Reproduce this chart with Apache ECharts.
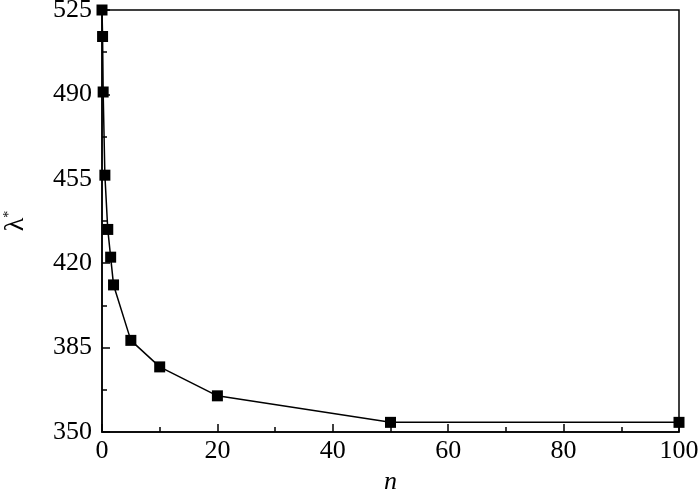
<!DOCTYPE html>
<html>
<head>
<meta charset="utf-8">
<script src="https://cdn.jsdelivr.net/npm/echarts@6/dist/echarts.min.js"></script>
<style>html,body{margin:0;padding:0;background:#fff}#c{width:700px;height:493px}</style>
</head>
<body>
<div id="c"></div>
<script>
const nValues = [0, 0.1, 0.2, 0.5, 1, 1.5, 2, 5, 10, 20, 50, 100];
const lambdaValues = [525, 514, 491, 456.5, 434, 422.5, 411, 388, 377, 365, 354, 354];
const xTicks = [0, 20, 40, 60, 80, 100];
const yTicks = [350, 385, 420, 455, 490, 525];

const chart = echarts.init(document.getElementById('c'), null, {renderer: 'canvas'});
const font = 'Liberation Serif';
chart.setOption({
  animation: false,
  backgroundColor: '#fff',
  grid: {left: 102, right: 21, top: 10, bottom: 61, show: true, borderColor: '#000', borderWidth: 1.5,
    backgroundColor: 'transparent', containLabel: false, outerBoundsMode: 'none'},
  xAxis: {
    type: 'value', min: xTicks[0], max: xTicks[xTicks.length-1], interval: 20,
    name: 'n', nameLocation: 'middle', nameGap: 30,
    nameTextStyle: {fontFamily: font, fontSize: 26, fontStyle: 'italic', color: '#000'},
    axisLine: {show: true, lineStyle: {color: '#000', width: 1.5}},
    axisTick: {show: true, inside: true, length: 8, lineStyle: {color: '#000', width: 1.5}},
    minorTick: {show: true, splitNumber: 2, length: 5, lineStyle: {color: '#000', width: 1.5}},
    axisLabel: {fontFamily: font, fontSize: 26, color: '#000', margin: 6},
    splitLine: {show: false}
  },
  yAxis: {
    type: 'value', min: yTicks[0], max: yTicks[yTicks.length-1], interval: 35,
    name: 'λ{s|*}', nameLocation: 'middle', nameGap: 72, nameRotate: 90,
    nameTextStyle: {fontFamily: font, fontSize: 28, color: '#000',
      rich: {s: {fontFamily: font, fontSize: 14, verticalAlign: 'top', lineHeight: 24, padding: [0,0,12,0]}}},
    axisLine: {show: true, lineStyle: {color: '#000', width: 1.5}},
    axisTick: {show: true, inside: true, length: 8, lineStyle: {color: '#000', width: 1.5}},
    minorTick: {show: true, splitNumber: 2, length: 5, lineStyle: {color: '#000', width: 1.5}},
    axisLabel: {fontFamily: font, fontSize: 26, color: '#000', margin: 10},
    splitLine: {show: false}
  },
  series: [{
    type: 'line',
    data: nValues.map((n, i) => [n, lambdaValues[i]]),
    symbol: 'rect', symbolSize: 11,
    lineStyle: {color: '#000', width: 1.5},
    itemStyle: {color: '#000'},
    clip: false
  }]
});
</script>
</body>
</html>
